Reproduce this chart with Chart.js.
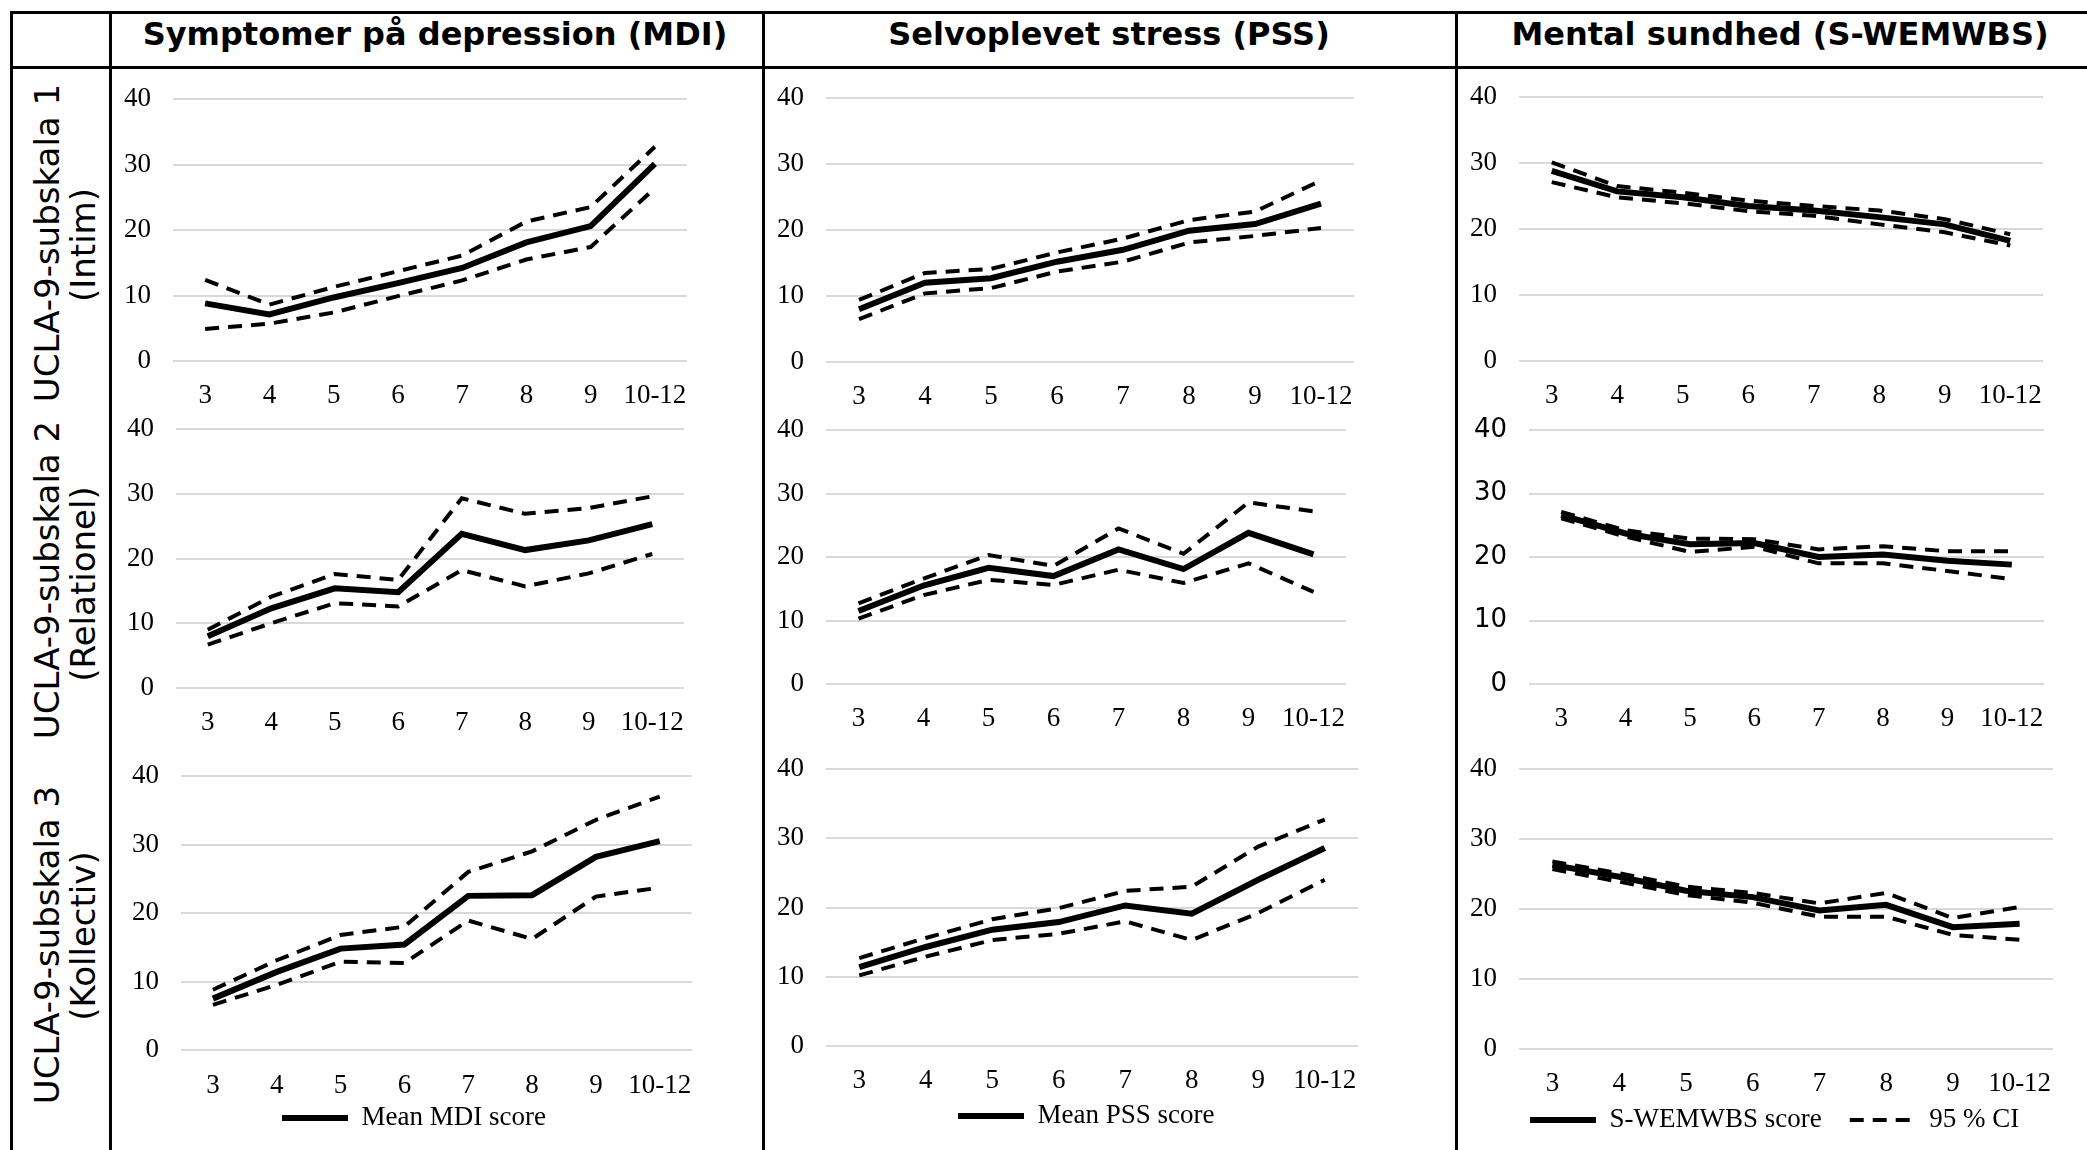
<!DOCTYPE html>
<html lang="da">
<head>
<meta charset="utf-8">
<title>UCLA-9 subskalaer</title>
<script src="https://cdn.jsdelivr.net/npm/chart.js@4.4.1/dist/chart.umd.min.js"></script>
<style>
  html, body { margin: 0; padding: 0; background: #fff; }
  #page { position: relative; width: 2087px; height: 1150px; overflow: hidden; }
  .ln { position: absolute; background: #000; }
  .title { position: absolute; top: 18px; font: bold 32px "DejaVu Sans"; line-height: 32px; white-space: nowrap; transform: translateX(-50%); }
  .rowlbl { position: absolute; font: 34px "DejaVu Sans"; white-space: nowrap; transform: translate(-50%, -50%) rotate(-90deg); }
  canvas { position: absolute; }
</style>
</head>
<body>
<div id="page">
  <!-- table frame -->
  <div class="ln" style="left:10px;top:11px;width:2077px;height:3px"></div>
  <div class="ln" style="left:10px;top:66px;width:2077px;height:3px"></div>
  <div class="ln" style="left:10px;top:11px;width:3px;height:1139px"></div>
  <div class="ln" style="left:109px;top:11px;width:3px;height:1139px"></div>
  <div class="ln" style="left:762px;top:11px;width:3px;height:1139px"></div>
  <div class="ln" style="left:1455px;top:11px;width:3px;height:1139px"></div>

  <div class="title" style="left:435px">Symptomer på depression (MDI)</div>
  <div class="title" style="left:1109px">Selvoplevet stress (PSS)</div>
  <div class="title" style="left:1780px">Mental sundhed (S-WEMWBS)</div>

  <div class="rowlbl" style="left:47px;top:243px">UCLA-9-subskala 1</div>
  <div class="rowlbl" style="left:83px;top:245px">(Intim)</div>
  <div class="rowlbl" style="left:47px;top:580px">UCLA-9-subskala 2</div>
  <div class="rowlbl" style="left:83px;top:584px">(Relationel)</div>
  <div class="rowlbl" style="left:47px;top:945px">UCLA-9-subskala 3</div>
  <div class="rowlbl" style="left:83px;top:936px">(Kollectiv)</div>
</div>

<script>
const grades = ["3", "4", "5", "6", "7", "8", "9", "10-12"];

// MDI
const mdiIntim = [8.8, 7.1, 9.7, 11.9, 14.2, 18.1, 20.6, 30.1];
const mdiIntimHi = [12.4, 8.6, 11.3, 13.7, 16.1, 21.3, 23.5, 32.7];
const mdiIntimLo = [4.9, 5.7, 7.4, 9.9, 12.3, 15.5, 17.4, 26.4];
const mdiRel = [8.0, 12.3, 15.4, 14.8, 23.8, 21.3, 22.8, 25.3];
const mdiRelHi = [9.0, 14.1, 17.6, 16.7, 29.3, 26.9, 27.8, 29.6];
const mdiRelLo = [6.7, 10.0, 13.1, 12.6, 18.2, 15.7, 17.7, 20.7];
const mdiKol = [7.5, 11.4, 14.8, 15.4, 22.5, 22.6, 28.2, 30.5];
const mdiKolHi = [8.8, 13.1, 16.8, 18.0, 26.0, 29.0, 33.6, 37.0];
const mdiKolLo = [6.6, 9.5, 12.9, 12.7, 18.9, 16.2, 22.4, 23.7];

// PSS
const pssIntim = [8.0, 12.0, 12.7, 15.2, 17.0, 19.9, 20.9, 24.0];
const pssIntimHi = [9.4, 13.5, 14.1, 16.6, 18.7, 21.5, 22.8, 27.5];
const pssIntimLo = [6.5, 10.4, 11.2, 13.7, 15.2, 18.1, 19.1, 20.3];
const pssRel = [11.5, 15.5, 18.3, 17.0, 21.2, 18.1, 23.8, 20.4];
const pssRelHi = [12.7, 16.6, 20.3, 18.6, 24.5, 20.5, 28.6, 27.2];
const pssRelLo = [10.3, 14.0, 16.4, 15.6, 18.0, 15.9, 19.0, 14.5];
const pssKol = [11.4, 14.3, 16.8, 17.9, 20.3, 19.1, 24.0, 28.6];
const pssKolHi = [12.7, 15.6, 18.3, 19.9, 22.4, 23.0, 28.8, 32.7];
const pssKolLo = [10.2, 12.9, 15.3, 16.2, 18.0, 15.3, 19.2, 24.0];

// S-WEMWBS
const wemIntim = [28.8, 25.7, 24.8, 23.5, 22.8, 21.8, 20.7, 18.2];
const wemIntimHi = [30.1, 26.5, 25.5, 24.3, 23.5, 22.8, 21.5, 19.2];
const wemIntimLo = [27.1, 24.8, 23.9, 22.7, 22.0, 20.7, 19.5, 17.5];
const wemRel = [26.6, 23.7, 22.0, 22.2, 20.0, 20.4, 19.4, 18.8];
const wemRelHi = [27.1, 24.2, 22.9, 22.8, 21.2, 21.7, 20.9, 20.9];
const wemRelLo = [26.1, 23.2, 20.8, 21.6, 19.0, 19.0, 17.8, 16.5];
const wemKol = [26.3, 24.6, 22.6, 21.7, 19.8, 20.6, 17.4, 17.9];
const wemKolHi = [26.8, 25.1, 23.2, 22.3, 20.8, 22.3, 18.7, 20.3];
const wemKolLo = [25.7, 23.9, 22.0, 20.9, 18.9, 18.9, 16.3, 15.6];

const serif = { family: "Liberation Serif", size: 27 };
const sans = { family: "DejaVu Sans", size: 26 };

// moves the legend so it sits where the original one does
const shiftLegend = {
  id: "shiftLegend",
  afterLayout(chart, args, opts) {
    const lg = chart.legend;
    if (!lg || !lg.options.display || opts.startX == null) return;
    const pad = lg.options.labels.padding;
    const fs = lg.options.labels.font.size;
    const dx = opts.startX - (lg.left + pad + lg.right - lg.lineWidths[0]) / 2;
    const dy = opts.midY - (lg.top + pad + fs / 2);
    lg.left += dx;
    lg.right += dx;
    lg.top += dy;
    lg.bottom += dy;
  },
};

// plot area: left/right of gridlines, top = line 40, bottom = line 0
const panels = [
  { left: 173, right: 687, top: 99, bottom: 361, mean: mdiIntim, hi: mdiIntimHi, lo: mdiIntimLo, label: "Mean MDI score", xpad: 11 },
  { left: 826, right: 1354, top: 98, bottom: 362, mean: pssIntim, hi: pssIntimHi, lo: pssIntimLo, label: "Mean PSS score", xpad: 11 },
  { left: 1519, right: 2043, top: 97, bottom: 361, mean: wemIntim, hi: wemIntimHi, lo: wemIntimLo, label: "S-WEMWBS score", xpad: 11 },
  { left: 176, right: 684, top: 429, bottom: 688, mean: mdiRel, hi: mdiRelHi, lo: mdiRelLo, label: "Mean MDI score", xpad: 11 },
  { left: 826, right: 1346, top: 430, bottom: 684, mean: pssRel, hi: pssRelHi, lo: pssRelLo, label: "Mean PSS score", xpad: 11 },
  { left: 1529, right: 2044, top: 430, bottom: 684, mean: wemRel, hi: wemRelHi, lo: wemRelLo, label: "S-WEMWBS score", xpad: 11, yfont: sans },
  { left: 181, right: 692, top: 776, bottom: 1050, mean: mdiKol, hi: mdiKolHi, lo: mdiKolLo, label: "Mean MDI score", xpad: 12, legend: 1, legX: 282, legY: 1118 },
  { left: 826, right: 1358, top: 769, bottom: 1046, mean: pssKol, hi: pssKolHi, lo: pssKolLo, label: "Mean PSS score", xpad: 11, legend: 1, legX: 958, legY: 1116 },
  { left: 1519, right: 2053, top: 769, bottom: 1049, mean: wemKol, hi: wemKolHi, lo: wemKolLo, label: "S-WEMWBS score", xpad: 11, legend: 2, legX: 1530, legY: 1120 },
];

const page = document.getElementById("page");

function makeChart(p) {
  const YW = 80, PT = 42, PR = 12, XH = 56;
  const legH = p.legend ? 27 + 28 + 10 : 0;
  const left = p.left - YW;
  const top = p.top - PT;
  const w = p.right - p.left + YW + PR;
  const h = PT + (p.bottom - p.top) + XH + legH;

  const cv = document.createElement("canvas");
  cv.width = w;
  cv.height = h;
  cv.style.left = left + "px";
  cv.style.top = top + "px";
  page.appendChild(cv);

  new Chart(cv, {
    type: "line",
    data: {
      labels: grades,
      datasets: [
        { label: p.label, data: p.mean, borderColor: "#000", borderWidth: 6 },
        { label: "95 % CI", data: p.hi, borderColor: "#000", borderWidth: 4, borderDash: [14, 9] },
        { label: "95 % CI", data: p.lo, borderColor: "#000", borderWidth: 4, borderDash: [14, 9] },
      ],
    },
    options: {
      responsive: false,
      animation: false,
      devicePixelRatio: 1,
      layout: { padding: { top: PT, right: PR, left: 0, bottom: 0 } },
      elements: { point: { radius: 0 }, line: { tension: 0 } },
      scales: {
        x: {
          offset: true,
          grid: { display: false },
          border: { display: false },
          ticks: { font: serif, color: "#000", padding: p.xpad, maxRotation: 0, autoSkip: false },
          afterFit: (s) => { s.height = XH; },
        },
        y: {
          min: 0,
          max: 40,
          grid: { color: "#d9d9d9", lineWidth: 2, drawTicks: false },
          border: { display: false },
          ticks: { stepSize: 10, font: p.yfont || serif, color: "#000", padding: 22 },
          afterFit: (s) => { s.width = YW; },
        },
      },
      plugins: {
        tooltip: { enabled: false },
        legend: {
          display: !!p.legend,
          position: "bottom",
          labels: {
            usePointStyle: true,
            pointStyleWidth: 66,
            padding: 28,
            color: "#000",
            font: serif,
            generateLabels: (chart) =>
              chart.data.datasets.slice(0, p.legend || 0).map((ds, i) => ({
                text: ds.label,
                fillStyle: "#000",
                strokeStyle: "#000",
                fontColor: "#000",
                lineWidth: ds.borderWidth,
                lineDash: ds.borderDash || [],
                pointStyle: "line",
                hidden: false,
                datasetIndex: i,
              })),
          },
        },
        shiftLegend: p.legend ? { startX: p.legX - left, midY: p.legY - top } : {},
      },
    },
    plugins: [shiftLegend],
  });
}

panels.forEach(makeChart);
</script>
</body>
</html>
